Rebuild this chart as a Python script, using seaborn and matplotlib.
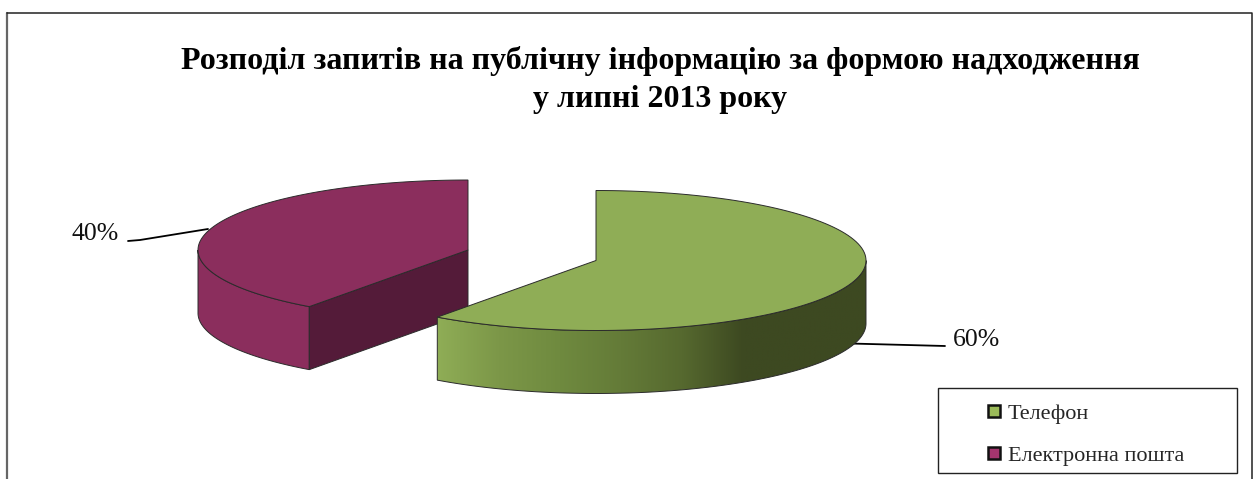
import numpy as np
import matplotlib
matplotlib.use('Agg')
import matplotlib.pyplot as plt
from matplotlib.lines import Line2D
from matplotlib.patches import Rectangle
import seaborn as sns

# values
categories = ['Телефон', 'Електронна пошта']
shares = [60, 40]
title_text = 'Розподіл запитів на публічну інформацію за формою надходження\nу липні 2013 року'

sns.set_theme(style='white')
plt.rcParams['font.family'] = ['Liberation Serif', 'DejaVu Serif']

GREEN = '#8FAD56'
PURPLE = '#8B2E5D'
PURPLE_DARK = '#541B39'
EDGE = '#2b2b2b'
# shading of the outer wall, left to right
green_wall = sns.blend_palette(['#8FAD56', '#7C9748', '#6F8A3F', '#647B38',
                                '#56692F', '#3D4921', '#3D4921', '#3D4921'], 256)

RX, RY, DEPTH = 270, 70, 63
GREEN_C = (596, 260.5)
PURPLE_C = (468, 250)

angles = np.cumsum([0] + shares) * 3.6


def rim(center, a0, a1, n=120, drop=0):
    # points on the ellipse, angle runs clockwise from 12 o'clock
    t = np.radians(np.linspace(a0, a1, n))
    return center[0] + RX * np.sin(t), center[1] - RY * np.cos(t) + drop


fig = plt.figure(figsize=(12.56, 4.79), dpi=100)
ax = fig.add_axes([0, 0, 1, 1])
ax.axis('off')

# outer frame, cut off at the bottom of the picture
ax.plot([6.5, 6.5], [479, 12.5], color='#666666', lw=1.6)
ax.plot([6.5, 1252, 1252], [12.5, 12.5, 479], color='#222222', lw=1.1)

# leader lines
ax.plot([128, 140, 208], [241, 240, 229], color='black', lw=1.3, zorder=1)
ax.plot([850, 945], [343.5, 346], color='black', lw=1.3, zorder=1)

# purple slice
a0, a1 = angles[1], angles[2]
x, y = rim(PURPLE_C, a0, 270)
xb, yb = rim(PURPLE_C, a0, 270, drop=DEPTH)
ax.fill(np.r_[x, xb[::-1]], np.r_[y, yb[::-1]], facecolor=PURPLE, edgecolor=EDGE, lw=0.7, zorder=2)
xc, yc = rim(PURPLE_C, a0, a0, n=1)
ax.fill([PURPLE_C[0], xc[0], xc[0], PURPLE_C[0]],
        [PURPLE_C[1], yc[0], yc[0] + DEPTH, PURPLE_C[1] + DEPTH],
        facecolor=PURPLE_DARK, edgecolor=EDGE, lw=0.7, zorder=2)
x, y = rim(PURPLE_C, a0, a1)
ax.fill(np.r_[PURPLE_C[0], x], np.r_[PURPLE_C[1], y], facecolor=PURPLE, edgecolor=EDGE, lw=0.7, zorder=3)

# green slice, the wall is a gradient clipped to its outline
a0, a1 = angles[0], angles[1]
x, y = rim(GREEN_C, a1, 90)
wall = ax.fill(np.r_[x, x[::-1]], np.r_[y, y[::-1] + DEPTH], facecolor='none', edgecolor=EDGE, lw=0.7, zorder=5)[0]
grad = ax.imshow(np.array(green_wall)[None, :, :], extent=[x.min(), x.max(), (y + DEPTH).max(), y.min()],
                 aspect='auto', interpolation='bilinear', zorder=4)
grad.set_clip_path(wall)
x, y = rim(GREEN_C, a0, a1)
ax.fill(np.r_[GREEN_C[0], x], np.r_[GREEN_C[1], y], facecolor=GREEN, edgecolor=EDGE, lw=0.7, zorder=6)

ax.set_xlim(0, 1256)
ax.set_ylim(479, 0)

# texts
ax.text(660, 80, title_text, ha='center', va='center', fontsize=23, fontweight='bold',
        color='black', linespacing=1.38)
ax.text(95.5, 233.5, f'{shares[1]}%', ha='center', va='center', fontsize=18.5, color='#111111')
ax.text(976.5, 340, f'{shares[0]}%', ha='center', va='center', fontsize=18.5, color='#111111')

# legend, box drawn apart so the rows can sit a bit low in it
ax.add_patch(Rectangle((938, 388), 299, 85, facecolor='white', edgecolor='#222222', lw=1.0, zorder=9))
handles = [Line2D([], [], linestyle='none', marker='s', markersize=9, markerfacecolor=c,
                  markeredgecolor='#111111', markeredgewidth=1.8)
           for c in ['#9BBB59', '#A5356E']]
leg = ax.legend(handles, categories, loc='center', bbox_to_anchor=(938 / 1256, 1 - 477 / 479, 299 / 1256, 85 / 479),
                bbox_transform=fig.transFigure, mode='expand', borderaxespad=0, numpoints=1,
                fontsize=16, labelspacing=0.98, handlelength=4.1, handletextpad=-1.42,
                borderpad=0.47, frameon=False)
leg.set_zorder(10)

fig.savefig('out.png', dpi=100, facecolor='white')
